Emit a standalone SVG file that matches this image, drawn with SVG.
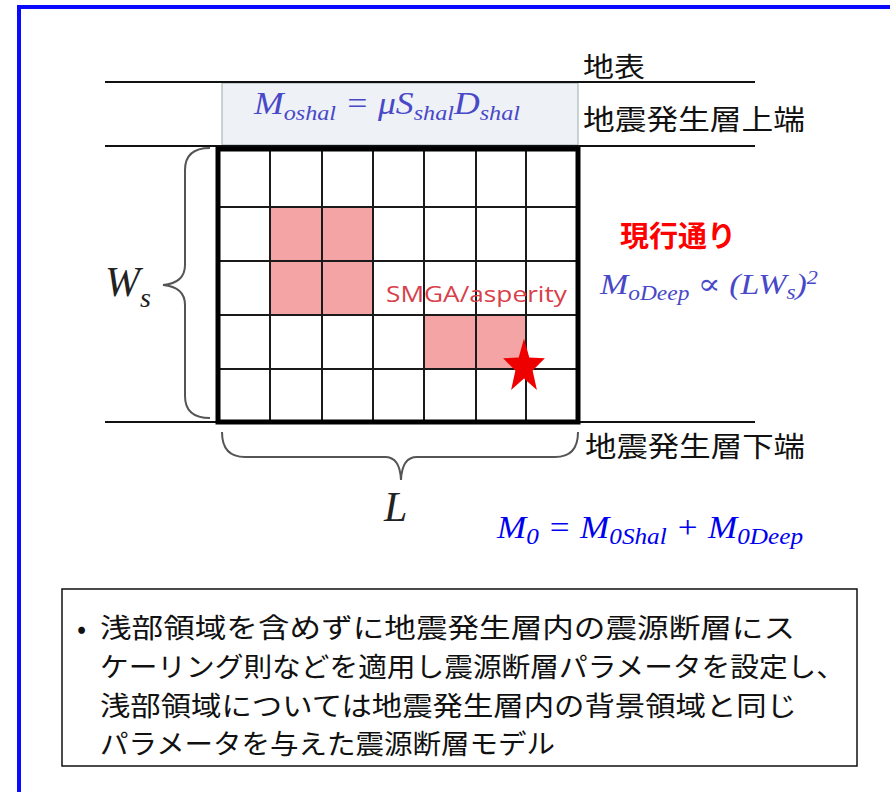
<svg xmlns="http://www.w3.org/2000/svg" width="890" height="792" viewBox="0 0 890 792">
<style>
.jp{font-family:"Noto Sans CJK JP","Noto Sans",sans-serif;fill:#111}
.math{font-family:"Liberation Serif","DejaVu Serif",serif;font-style:italic}
.grid{stroke:#1a1a1a;stroke-width:2;fill:none}
.hl{stroke:#111;stroke-width:2}
.brace{stroke:#555;stroke-width:2;fill:none}
</style>
<rect width="890" height="792" fill="#fff"/>
<rect x="19" y="7" width="900" height="820" fill="none" stroke="#0a0aff" stroke-width="4"/>

<g id="layers">
<rect x="222" y="83" width="356" height="62" fill="#eef1f6" stroke="#9aa" stroke-width="1"/>
<line class="hl" x1="105" y1="82" x2="755" y2="82"/>
<line class="hl" x1="105" y1="146" x2="755" y2="146"/>
<line class="hl" x1="105" y1="422" x2="755" y2="422"/>
<text class="jp" x="583" y="77" font-size="27" textLength="62" lengthAdjust="spacingAndGlyphs">地表</text>
<text class="jp" x="583" y="130" font-size="28" textLength="222" lengthAdjust="spacingAndGlyphs">地震発生層上端</text>
<text class="jp" x="585" y="457" font-size="28" textLength="220" lengthAdjust="spacingAndGlyphs">地震発生層下端</text>
</g>

<g id="fault">
<rect x="270" y="207" width="103" height="108" fill="#f4a4a4"/>
<rect x="424" y="315" width="102" height="54" fill="#f4a4a4"/>
<path class="grid" d="M270 149V422M322 149V422M373 149V422M424 149V422M476 149V422M526 149V422M218 207H578M218 261H578M218 315H578M218 369H578"/>
<rect x="218" y="149" width="360" height="273" fill="none" stroke="#000" stroke-width="5"/>
<text x="386" y="302" font-family="'Open Sans','Liberation Sans',sans-serif" font-size="21" fill="#d8404a" textLength="181" lengthAdjust="spacingAndGlyphs">SMGA/asperity</text>
<polygon fill="#ee0000" points="524,338.5 529.3,357.6 544.9,358.2 532.6,370.6 536.9,390.1 524,378.6 511.1,390.1 515.4,370.6 503.1,358.2 518.7,357.6"/>
</g>

<g id="braces">
<path class="brace" d="M210 148Q185 148 185 170V265Q185 283 163 285Q185 287 185 305V396Q185 418 210 418"/>
<path class="brace" d="M222 432Q222 457 245 457H385Q400 457 401 480Q402 457 417 457H555Q578 457 578 432"/>
<text class="math" x="105" y="296" font-size="42" fill="#222">W<tspan font-size="28" dy="11">s</tspan></text>
<text class="math" x="384" y="521" font-size="42" fill="#222">L</text>
</g>

<g id="formulas">
<text class="math" x="254" y="114" font-size="31" fill="#4848c8" textLength="266" lengthAdjust="spacingAndGlyphs">M<tspan font-size="21" dy="6">oshal</tspan><tspan dy="-6"> = μS</tspan><tspan font-size="21" dy="6">shal</tspan><tspan dy="-6">D</tspan><tspan font-size="21" dy="6">shal</tspan></text>
<text x="620" y="247" font-family="'Noto Sans CJK JP',sans-serif" font-weight="bold" font-size="29" fill="#ff0000">現行通り</text>
<text class="math" x="600" y="294" font-size="29" fill="#4848c8" textLength="218" lengthAdjust="spacingAndGlyphs">M<tspan font-size="20" dy="6">oDeep</tspan><tspan dy="-6"> ∝ (LW</tspan><tspan font-size="20" dy="5">s</tspan><tspan dy="-5">)</tspan><tspan font-size="19" dy="-10">2</tspan></text>
<text class="math" x="497" y="538" font-size="32" fill="#0000f0" textLength="306" lengthAdjust="spacingAndGlyphs">M<tspan font-size="23" dy="6">0</tspan><tspan dy="-6"> = M</tspan><tspan font-size="23" dy="6">0Shal</tspan><tspan dy="-6"> + M</tspan><tspan font-size="23" dy="6">0Deep</tspan></text>
</g>

<g id="note">
<rect x="62" y="589" width="795" height="177" fill="#fff" stroke="#111" stroke-width="1.5"/>
<text class="jp" x="77" y="638" font-size="27">•</text>
<text class="jp" x="100" y="638" font-size="27" textLength="695" lengthAdjust="spacingAndGlyphs">浅部領域を含めずに地震発生層内の震源断層にス</text>
<text class="jp" x="100" y="677" font-size="27" textLength="745" lengthAdjust="spacingAndGlyphs">ケーリング則などを適用し震源断層パラメータを設定し、</text>
<text class="jp" x="100" y="716" font-size="27" textLength="697" lengthAdjust="spacingAndGlyphs">浅部領域については地震発生層内の背景領域と同じ</text>
<text class="jp" x="100" y="754" font-size="27" textLength="455" lengthAdjust="spacingAndGlyphs">パラメータを与えた震源断層モデル</text>
</g>
</svg>
